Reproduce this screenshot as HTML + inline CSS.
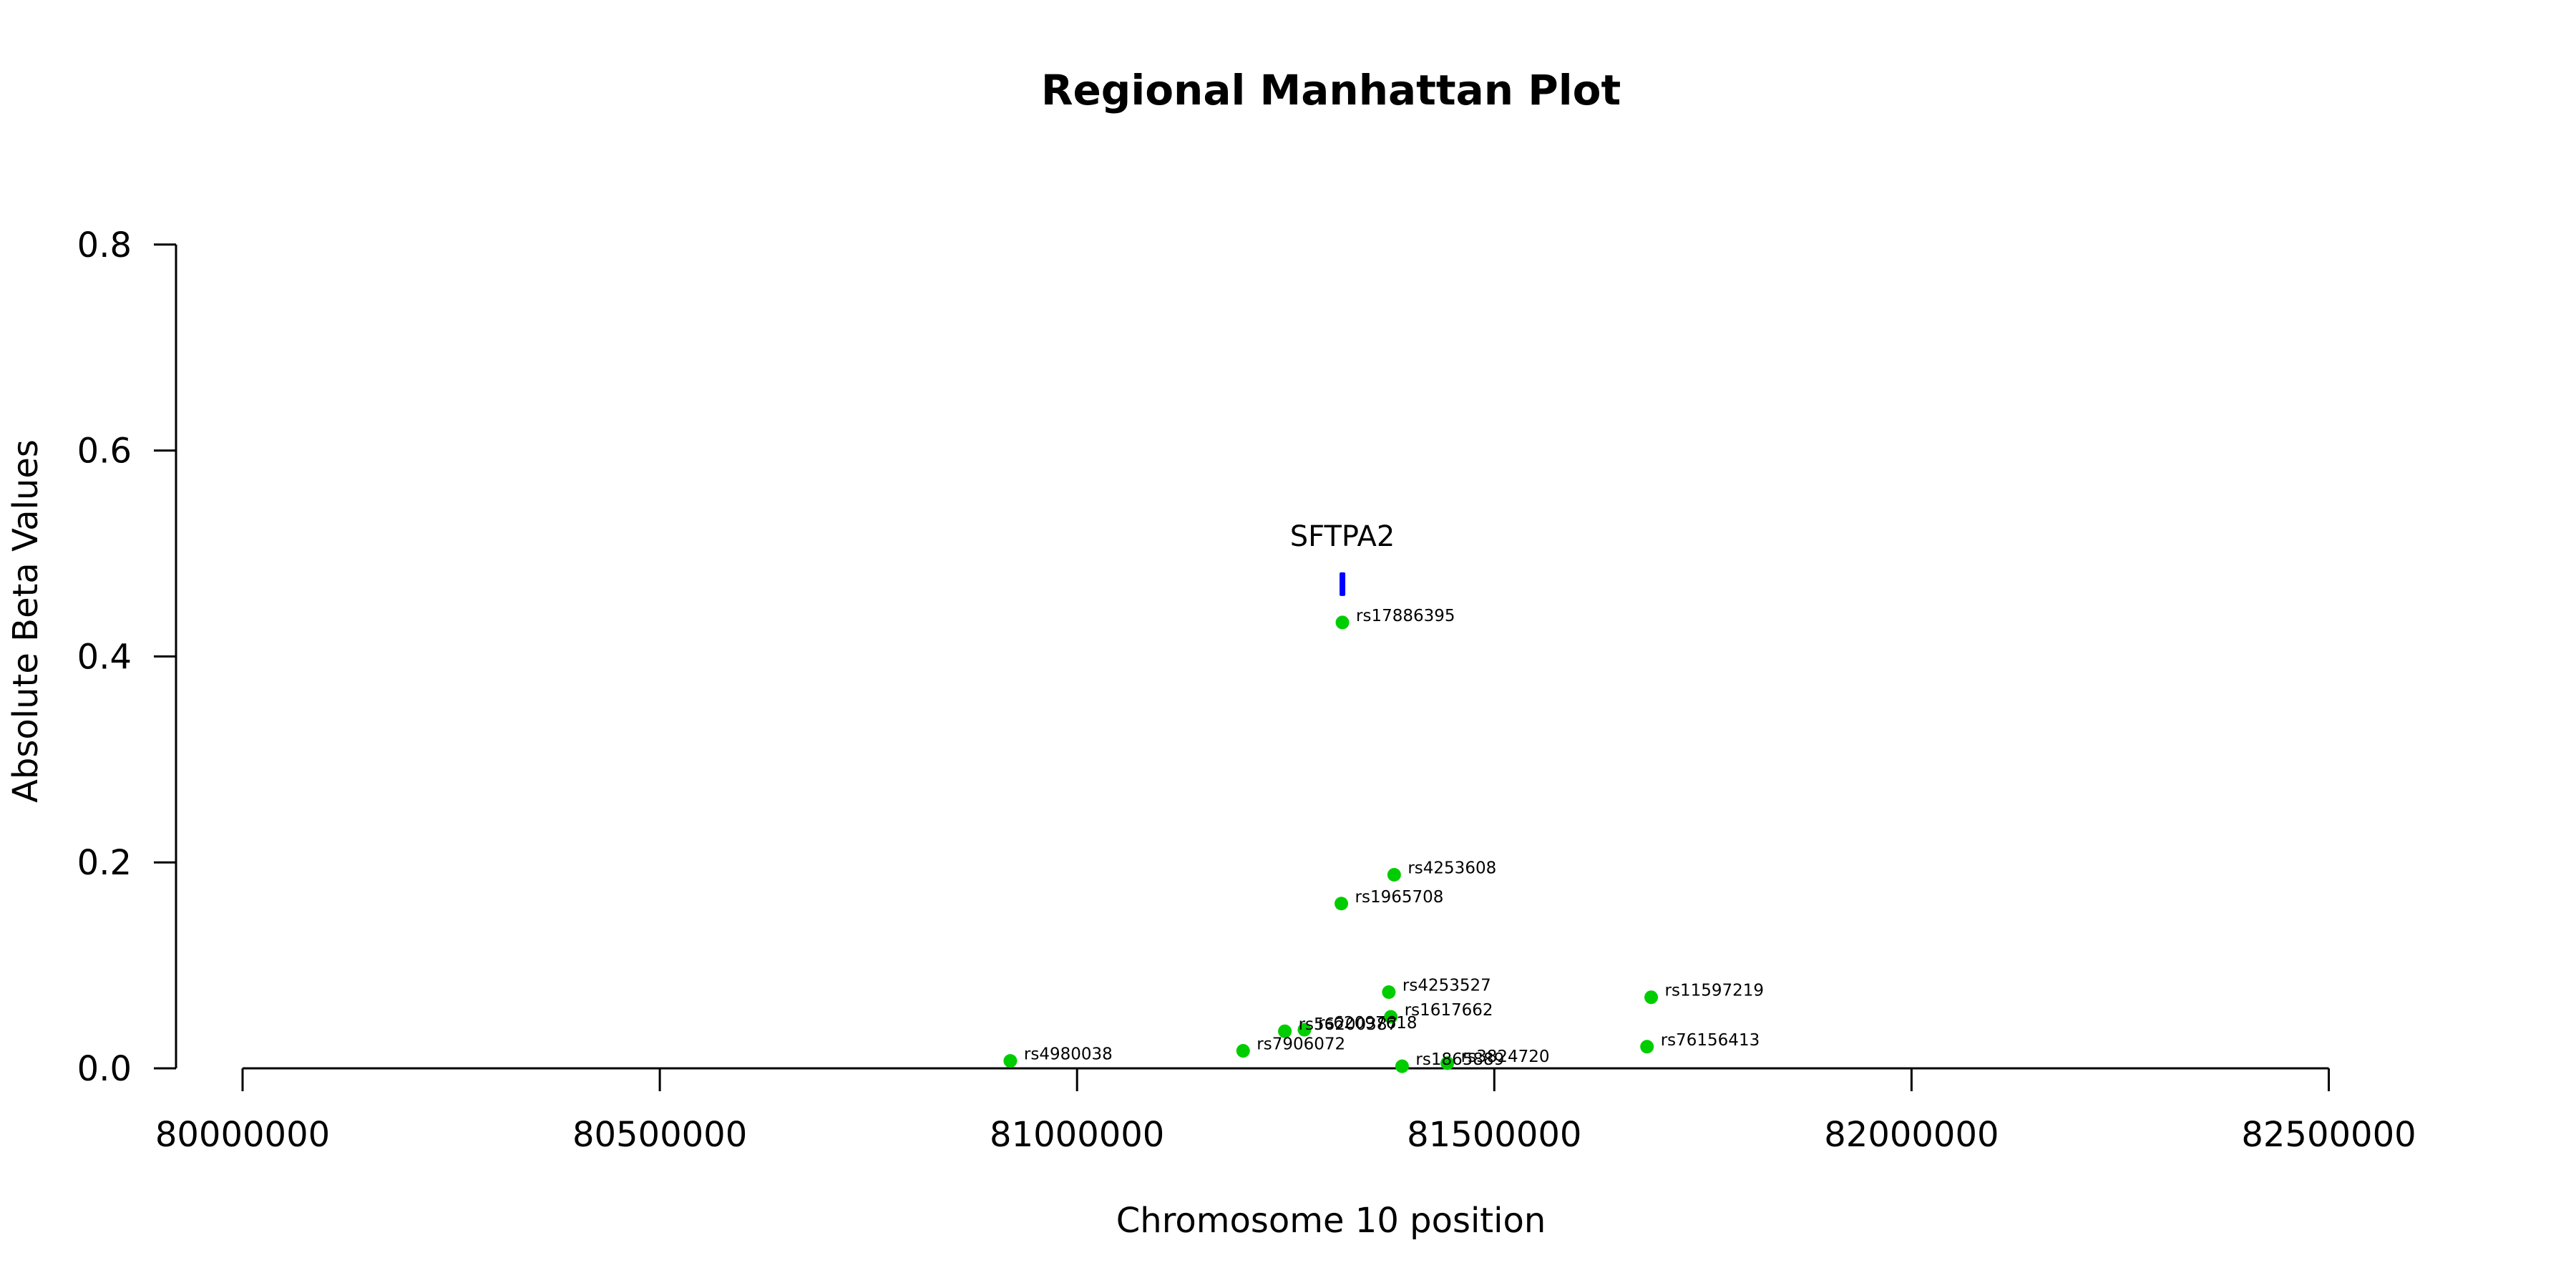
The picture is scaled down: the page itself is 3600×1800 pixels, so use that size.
<!DOCTYPE html>
<html><head><meta charset="utf-8"><style>
html,body{margin:0;padding:0;background:#fff;}
svg{display:block;}
text{font-family:"DejaVu Sans","Liberation Sans",sans-serif;fill:#000;}
</style></head><body>
<svg id="chart" width="3600" height="1800" viewBox="0 0 3600 1800" xmlns="http://www.w3.org/2000/svg">
<rect width="3600" height="1800" fill="#fff"/>
<text x="1860" y="146" font-size="58" font-weight="bold" text-anchor="middle">Regional Manhattan Plot</text>
<text x="1860" y="1722" font-size="48" text-anchor="middle">Chromosome 10 position</text>
<text transform="translate(52,868) rotate(-90)" font-size="48" text-anchor="middle">Absolute Beta Values</text>
<g id="axes"></g>
<g id="marks"></g>
</svg>
<script>
const snpNames = ["rs4980038","rs7906072","rs56200387","rs62097618","rs17886395","rs1965708","rs4253608","rs4253527","rs1617662","rs1865889","rs3824720","rs11597219","rs76156413"];
const snpPositions = [80920000,81199000,81249000,81272500,81318000,81316700,81380000,81373600,81376000,81389500,81443700,81688000,81683000];
const snpBetas = [0.0072,0.017,0.036,0.0375,0.433,0.160,0.188,0.074,0.050,0.002,0.005,0.069,0.021];
const xTicks = [80000000,80500000,81000000,81500000,82000000,82500000];
const yTicks = [0.0,0.2,0.4,0.6,0.8];
const geneNames = ["SFTPA2"];
const geneX = [81318000];
const geneYTop = [0.4817];
const geneYBottom = [0.4587];

const NS = "http://www.w3.org/2000/svg";
function xScale(v){ return 339 + (v - 80000000) / 500000 * 583.1; }
function yScale(v){ return 1493 - v * 1439; }
function mk(tag, attrs, parent){ const e = document.createElementNS(NS, tag); for (const k in attrs) e.setAttribute(k, attrs[k]); parent.appendChild(e); return e; }

const axes = document.getElementById('axes');
const marks = document.getElementById('marks');

// y axis
let yl = mk('line', {x1:246, x2:246, y1:yScale(yTicks[yTicks.length-1]), y2:yScale(yTicks[0]), stroke:'#000','stroke-width':3}, axes);


yTicks.forEach(t => {
  const tk = mk('line', {x1:215, x2:246, y1:yScale(t), y2:yScale(t), stroke:'#000','stroke-width':3}, axes);
  
  
  const lb = mk('text', {x:184, y:yScale(t)+17, 'font-size':48, 'text-anchor':'end'}, axes);
  lb.textContent = t.toFixed(1);
  
  
});
// x axis
let xl = mk('line', {x1:xScale(xTicks[0]), x2:xScale(xTicks[xTicks.length-1]), y1:1493, y2:1493, stroke:'#000','stroke-width':3}, axes);


xTicks.forEach(t => {
  const tk = mk('line', {x1:xScale(t), x2:xScale(t), y1:1493, y2:1525, stroke:'#000','stroke-width':3}, axes);
  
  
  const lb = mk('text', {x:xScale(t), y:1602, 'font-size':48, 'text-anchor':'middle'}, axes);
  lb.textContent = String(t);
  
  
});
// gene
geneNames.forEach((g, i) => {
  const r = mk('rect', {x:xScale(geneX[i])-4, y:yScale(geneYTop[i]), width:8, height:yScale(geneYBottom[i])-yScale(geneYTop[i]), fill:'#0000ff', rx:2}, marks);
  
  
  const t = mk('text', {x:xScale(geneX[i]), y:yScale(geneYTop[i])-37, 'font-size':40, 'text-anchor':'middle'}, marks);
  t.textContent = g;
  
  
});
// points
snpNames.forEach((n, i) => {
  const cx = xScale(snpPositions[i]), cy = yScale(snpBetas[i]);
  const c = mk('circle', {cx:cx, cy:cy, r:9.5, fill:'#00cd00'}, marks);
  
  
});
snpNames.forEach((n, i) => {
  const cx = xScale(snpPositions[i]), cy = yScale(snpBetas[i]);
  const t = mk('text', {x:cx+19, y:cy-2, 'font-size':23}, marks);
  t.textContent = n;
  
  
});
</script>
</body></html>
